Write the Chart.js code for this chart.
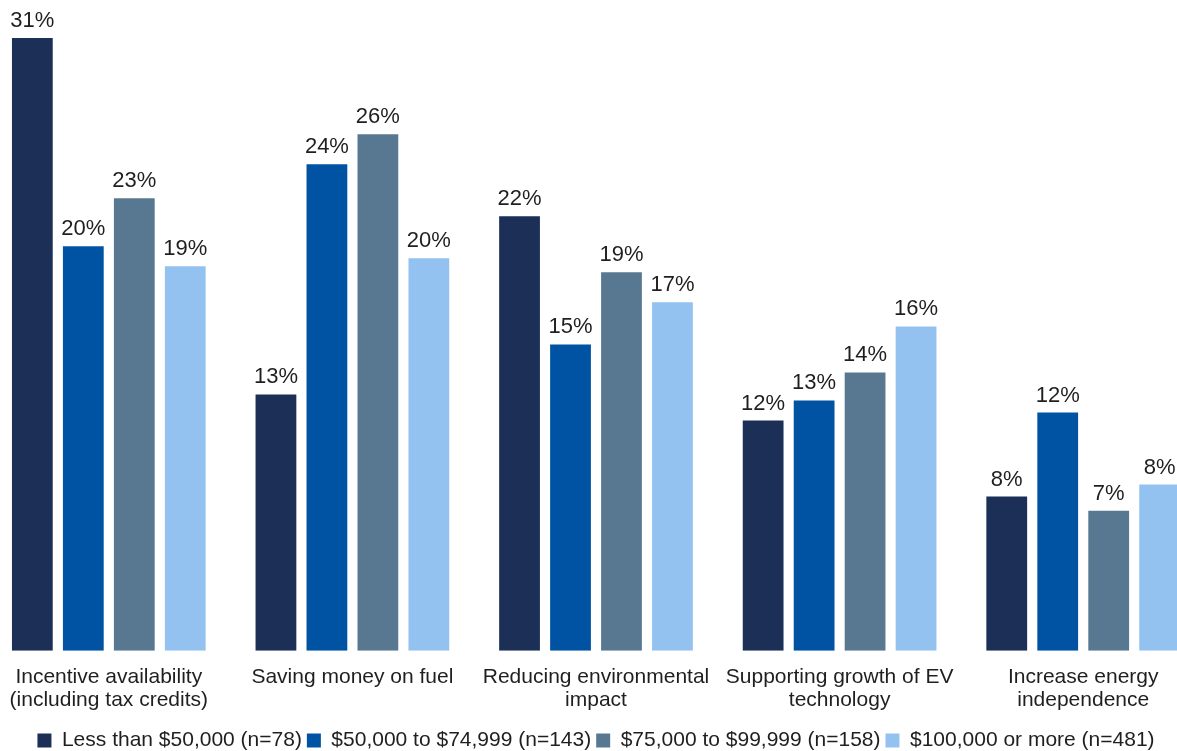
<!DOCTYPE html>
<html>
<head>
<meta charset="utf-8">
<script src="https://cdn.jsdelivr.net/npm/chart.js@4/dist/chart.umd.min.js"></script>
<style>
    html, body { margin: 0; padding: 0; background: #fff; overflow: hidden; }
    #wrap { position: absolute; left: -13px; top: 0; width: 1218px; height: 751px; }
</style>
</head>
<body>
<div id="wrap"><canvas id="evChart"></canvas></div>
<script>
// Reasons for EV interest, by household income
const categories = [
    ['Incentive availability', '(including tax credits)'],
    'Saving money on fuel',
    ['Reducing environmental', 'impact'],
    ['Supporting growth of EV', 'technology'],
    ['Increase energy', 'independence']
];
const seriesNames = [
    'Less than $50,000 (n=78)',
    '$50,000 to $74,999 (n=143)',
    '$75,000 to $99,999 (n=158)',
    '$100,000 or more (n=481)'
];
const under50k = [30.6, 12.8, 21.7, 11.5, 7.7];
const from50to75k = [20.2, 24.3, 15.3, 12.5, 11.9];
const from75to100k = [22.6, 25.8, 18.9, 13.9, 7.0];
const over100k = [19.2, 19.6, 17.4, 16.2, 8.3];
const colors = ['#1b2f57', '#0052a3', '#587891', '#93c2f1'];

const FONT = '"Liberation Sans", Arial, sans-serif';

// Draw value labels above each bar
const barLabels = {
    id: 'barLabels',
    afterDatasetsDraw(chart) {
        const ctx = chart.ctx;
        ctx.save();
        ctx.font = '22px ' + FONT;
        ctx.fillStyle = '#1f1f1f';
        ctx.textAlign = 'center';
        ctx.textBaseline = 'alphabetic';
        chart.data.datasets.forEach((ds, i) => {
            chart.getDatasetMeta(i).data.forEach((bar, j) => {
                ctx.fillText(Math.round(ds.data[j]) + '%', bar.x, bar.y - 11);
            });
        });
        ctx.restore();
    }
};

const allSeries = [under50k, from50to75k, from75to100k, over100k];

new Chart(document.getElementById('evChart'), {
    type: 'bar',
    data: {
        labels: categories,
        datasets: allSeries.map((vals, i) => ({
            label: seriesNames[i],
            data: vals,
            backgroundColor: colors[i],
            barPercentage: 0.8,
            categoryPercentage: 0.837
        }))
    },
    options: {
        responsive: true,
        maintainAspectRatio: false,
        animation: false,
        layout: { padding: { top: 0, left: 0, right: 0, bottom: -10 } },
        scales: {
            x: {
                grid: { display: false },
                border: { display: false },
                ticks: {
                    color: '#1f1f1f',
                    font: { family: FONT, size: 21, lineHeight: 1.1 },
                    padding: 7,
                    maxRotation: 0,
                    autoSkip: false
                },
                afterFit(scale) { scale.height += 6; }
            },
            y: {
                display: false,
                min: 0,
                max: 32.5
            }
        },
        plugins: {
            legend: {
                position: 'bottom',
                labels: {
                    color: '#1f1f1f',
                    font: { family: FONT, size: 21 },
                    boxWidth: 14,
                    boxHeight: 14,
                    padding: 5
                }
            },
            tooltip: { enabled: false },
            title: { display: false }
        }
    },
    plugins: [barLabels]
});
</script>
</body>
</html>
